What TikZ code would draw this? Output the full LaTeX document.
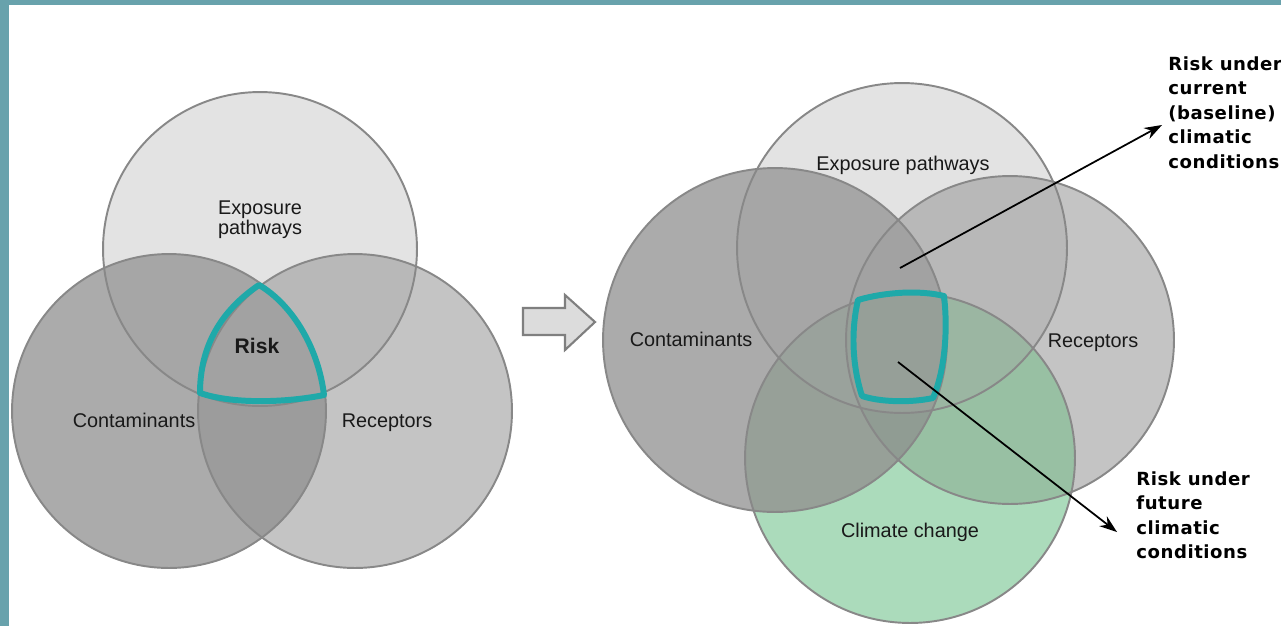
\documentclass[tikz,border=0pt]{standalone}
\usepackage{fontspec}
\setmainfont{Liberation Sans}
\newfontfamily\notefont[LetterSpace=3]{DejaVu Sans}
\usetikzlibrary{arrows.meta}
\definecolor{frameteal}{HTML}{68A2AC}
\definecolor{riskteal}{HTML}{1FA9A9}
\definecolor{cline}{HTML}{888888}
\definecolor{cE}{HTML}{E3E3E3}
\definecolor{cC}{HTML}{ABABAB}
\definecolor{cR}{HTML}{C4C4C4}
\definecolor{cEC}{HTML}{A6A6A6}
\definecolor{cER}{HTML}{B8B8B8}
\definecolor{cCR}{HTML}{9C9C9C}
\definecolor{cECR}{HTML}{A2A2A2}
\definecolor{cG}{HTML}{ABDBBB}
\definecolor{cCG}{HTML}{97A098}
\definecolor{cRG}{HTML}{98C0A3}
\definecolor{cEG}{HTML}{A8C8B0}
\definecolor{cCRG}{HTML}{909C93}
\definecolor{cECG}{HTML}{9AA29C}
\definecolor{cERG}{HTML}{9BB6A2}
\definecolor{cECRG}{HTML}{969F98}
\definecolor{arrowfill}{HTML}{DCDCDC}
\definecolor{arrowline}{HTML}{7F7F7F}
\def\LcE{(260,249) circle (3.14cm)}
\def\LcC{(169,411) circle (3.14cm)}
\def\LcR{(355,411) circle (3.14cm)}
\def\RcE{(902,248) circle (3.3cm)}
\def\RcC{(775,340) circle (3.44cm)}
\def\RcR{(1010,340) circle (3.28cm)}
\def\RcG{(910,458) circle (3.3cm)}
\begin{document}
\begin{tikzpicture}[x=0.02cm,y=-0.02cm,
  outl/.style={draw=cline,line width=1.1pt},
  lbl/.style={font=\fontsize{11.3}{11.3}\selectfont,text=black!90,inner sep=0pt,align=center},
  note/.style={font=\notefont\bfseries\fontsize{10.3}{14}\selectfont,align=left,inner sep=0pt,anchor=north west},
  riskline/.style={draw=riskteal,line width=3.4pt,line join=round},
  ptr/.style={draw=black,line width=1pt,-{Stealth[length=10pt,width=7pt]}}
]
\useasboundingbox (0,0) rectangle (1281,626);
\fill[white] (0,0) rectangle (1281,626);
\fill[frameteal] (0,0) rectangle (1281,5);
\fill[frameteal] (0,0) rectangle (9,626);

% ---------- left Venn ----------
\fill[cE] \LcE;
\fill[cC] \LcC;
\fill[cR] \LcR;
\begin{scope}\clip \LcE; \fill[cEC] \LcC; \end{scope}
\begin{scope}\clip \LcE; \fill[cER] \LcR; \end{scope}
\begin{scope}\clip \LcC; \fill[cCR] \LcR; \end{scope}
\begin{scope}\clip \LcE; \clip \LcC; \fill[cECR] \LcR; \end{scope}
\draw[outl] \LcE;
\draw[outl] \LcC;
\draw[outl] \LcR;
\draw[riskline] (259,285) .. controls (222,310) and (200,345) .. (200,393)
  .. controls (235,405) and (290,402) .. (324,395)
  .. controls (318,345) and (290,303) .. (259,285) -- cycle;
\node[lbl] (lexp) at (260,220) {Exposure\\pathways};
\node[lbl,anchor=base] (lcon) at (134,427) {Contaminants};
\node[lbl,anchor=base] (lrec) at (387,427) {Receptors};
\node[lbl,anchor=base,font=\bfseries\fontsize{12}{12}\selectfont] (lrisk) at (257,353) {Risk};

% ---------- block arrow ----------
\draw[fill=arrowfill,draw=arrowline,line width=1.2pt,line join=miter]
  (523,308) -- (565,308) -- (565,295) -- (595,322) -- (565,350) -- (565,335) -- (523,335) -- cycle;

% ---------- right Venn ----------
\fill[cE] \RcE;
\fill[cC] \RcC;
\fill[cR] \RcR;
\fill[cG] \RcG;
\begin{scope}\clip \RcE; \fill[cEC] \RcC; \end{scope}
\begin{scope}\clip \RcE; \fill[cER] \RcR; \end{scope}
\begin{scope}\clip \RcE; \fill[cEG] \RcG; \end{scope}
\begin{scope}\clip \RcC; \fill[cCR] \RcR; \end{scope}
\begin{scope}\clip \RcC; \fill[cCG] \RcG; \end{scope}
\begin{scope}\clip \RcR; \fill[cRG] \RcG; \end{scope}
\begin{scope}\clip \RcE; \clip \RcC; \fill[cECR] \RcR; \end{scope}
\begin{scope}\clip \RcE; \clip \RcC; \fill[cECG] \RcG; \end{scope}
\begin{scope}\clip \RcE; \clip \RcR; \fill[cERG] \RcG; \end{scope}
\begin{scope}\clip \RcC; \clip \RcR; \fill[cCRG] \RcG; \end{scope}
\begin{scope}\clip \RcE; \clip \RcC; \clip \RcR; \fill[cECRG] \RcG; \end{scope}
\draw[outl] \RcE;
\draw[outl] \RcC;
\draw[outl] \RcR;
\draw[outl] \RcG;
\draw[riskline] (858,300) .. controls (885,292) and (920,290) .. (944,296)
  .. controls (948,330) and (945,370) .. (933,398)
  .. controls (910,403) and (880,402) .. (862,396)
  .. controls (852,365) and (851,330) .. (858,300) -- cycle;
\node[lbl,anchor=base] (rexp) at (903,170) {Exposure pathways};
\node[lbl,anchor=base] (rcon) at (691,346) {Contaminants};
\node[lbl,anchor=base] (rrec) at (1093,347) {Receptors};
\node[lbl,anchor=base] (rclim) at (910,537) {Climate change};

% ---------- notes and pointers ----------
\node[note] (curtext) at (1168,56) {Risk under\\current\\(baseline)\\climatic\\conditions};
\node[note] (futtext) at (1136,471) {Risk under\\future\\climatic\\conditions};
\coordinate (curfrom) at (900,268);
\coordinate (curto) at (1162,125);
\coordinate (futfrom) at (898,362);
\coordinate (futto) at (1117,532);
\draw[ptr] (curfrom) -- (curto);
\draw[ptr] (futfrom) -- (futto);
\end{tikzpicture}
\end{document}
